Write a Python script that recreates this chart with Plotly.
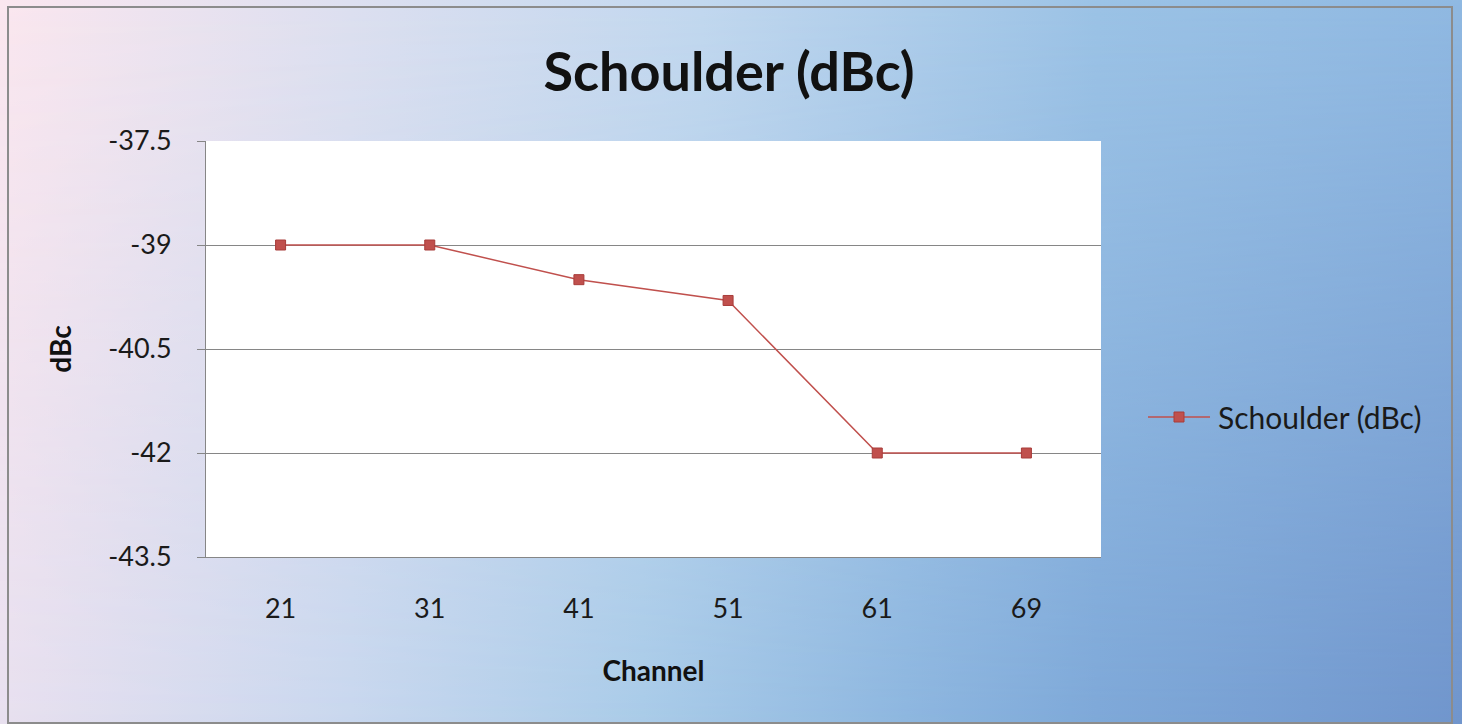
import base64
import plotly.graph_objects as go

# Channel measurements
channels = ["21", "31", "41", "51", "61", "69"]
shoulder_dbc = [-39.0, -39.0, -39.5, -39.8, -42.0, -42.0]
y_ticks = [-43.5, -42, -40.5, -39, -37.5]
y_tick_text = ["-43.5", "-42", "-40.5", "-39", "-37.5"]
series_name = "Schoulder (dBc)"

W, H = 1462, 724
FONT = "Lato"
TEXT = "#1a1a1a"
RED = "#c0504d"
GRID = "#868686"

# Pink-to-blue backdrop: a top colour ramp blended into a bottom ramp
svg = f"""<svg xmlns='http://www.w3.org/2000/svg' width='{W}' height='{H}' viewBox='0 0 {W} {H}' preserveAspectRatio='none'>
<defs>
<linearGradient id='top' x1='0' y1='0' x2='1' y2='0'>
<stop offset='0' stop-color='#fbe7ef'/>
<stop offset='0.24' stop-color='#dde0f0'/>
<stop offset='0.48' stop-color='#c2d8ef'/>
<stop offset='0.75' stop-color='#9cc3e6'/>
<stop offset='1' stop-color='#90b9e2'/>
</linearGradient>
<linearGradient id='bot' x1='0' y1='0' x2='1' y2='0'>
<stop offset='0' stop-color='#e8e0ef'/>
<stop offset='0.24' stop-color='#c8d7ee'/>
<stop offset='0.44' stop-color='#a9cbe8'/>
<stop offset='0.62' stop-color='#8db6df'/>
<stop offset='0.75' stop-color='#7ea8d8'/>
<stop offset='1' stop-color='#7095cc'/>
</linearGradient>
<linearGradient id='fade' x1='0' y1='0' x2='0' y2='1'>
<stop offset='0' stop-color='white' stop-opacity='0'/>
<stop offset='1' stop-color='white' stop-opacity='1'/>
</linearGradient>
<mask id='m'><rect width='{W}' height='{H}' fill='url(#fade)'/></mask>
</defs>
<rect width='{W}' height='{H}' fill='url(#top)'/>
<rect width='{W}' height='{H}' fill='url(#bot)' mask='url(#m)'/>
</svg>"""
bg_uri = "data:image/svg+xml;base64," + base64.b64encode(svg.encode()).decode()

fig = go.Figure()
fig.add_trace(go.Scatter(
    x=channels, y=shoulder_dbc, mode="lines+markers",
    name=series_name, showlegend=False,
    line=dict(color=RED, width=1.5),
    marker=dict(symbol="square", size=10, color=RED, line=dict(color="#a83c3a", width=1)),
))

# Legend key drawn beside the plot
leg_y = 1 - 417 / H
legend_shapes = [
    dict(type="line", xref="paper", yref="paper", x0=1148 / W, x1=1210 / W,
         y0=leg_y, y1=leg_y, line=dict(color=RED, width=1.5)),
    dict(type="rect", xref="paper", yref="paper",
         x0=1174 / W, x1=1184 / W, y0=leg_y - 5 / H, y1=leg_y + 5 / H,
         fillcolor=RED, line=dict(color="#a83c3a", width=1)),
]

fig.update_layout(
    width=W, height=H,
    margin=dict(l=0, r=0, t=0, b=0, autoexpand=False),
    paper_bgcolor="white",
    plot_bgcolor="white",
    font=dict(family=FONT, color=TEXT),
    images=[dict(source=bg_uri, xref="paper", yref="paper", x=0, y=1,
                 sizex=1, sizey=1, xanchor="left", yanchor="top",
                 sizing="stretch", layer="below")],
    shapes=[
        # white plot area
        dict(type="rect", xref="x domain", yref="y domain", x0=0, x1=1, y0=0, y1=1,
             fillcolor="white", line=dict(width=0), layer="below"),
        # chart frame
        dict(type="rect", xref="paper", yref="paper",
             x0=8 / W, x1=1452 / W, y0=1 / H, y1=1 - 7 / H,
             line=dict(color="#8c8c8c", width=2), layer="above"),
    ] + legend_shapes,
    annotations=[
        dict(text=series_name, xref="paper", yref="paper", x=1216 / W, y=leg_y,
             xanchor="left", yanchor="middle", showarrow=False,
             font=dict(size=30, color=TEXT, family=FONT)),
    ],
    title=dict(text="<b>Schoulder (dBc)</b>", x=729 / W, xanchor="center",
               y=1 - 72 / H, yanchor="middle", font=dict(size=54, family=FONT, color="#111")),
    xaxis=dict(
        type="category", domain=[206 / W, 1101 / W], automargin=False,
        range=[-0.5, len(channels) - 0.5],
        showgrid=False, showline=True, linecolor=GRID, linewidth=1,
        ticks="", ticklabelstandoff=28, tickfont=dict(size=27, color=TEXT),
        title=dict(text="<b>Channel</b>", font=dict(size=28, color="#111"), standoff=37),
    ),
    yaxis=dict(
        domain=[167 / H, 583 / H], range=[-43.5, -37.5], automargin=False,
        tickvals=y_ticks, ticktext=y_tick_text,
        showgrid=True, gridcolor=GRID, gridwidth=1,
        showline=True, linecolor=GRID, linewidth=1,
        ticks="outside", ticklen=8, tickcolor=GRID, ticklabelstandoff=20,
        tickfont=dict(size=27, color=TEXT), zeroline=False,
        title=dict(text="<b>dBc</b>", font=dict(size=28, color="#111"), standoff=28),
    ),
    showlegend=False,
)

fig.write_html("out.html")
